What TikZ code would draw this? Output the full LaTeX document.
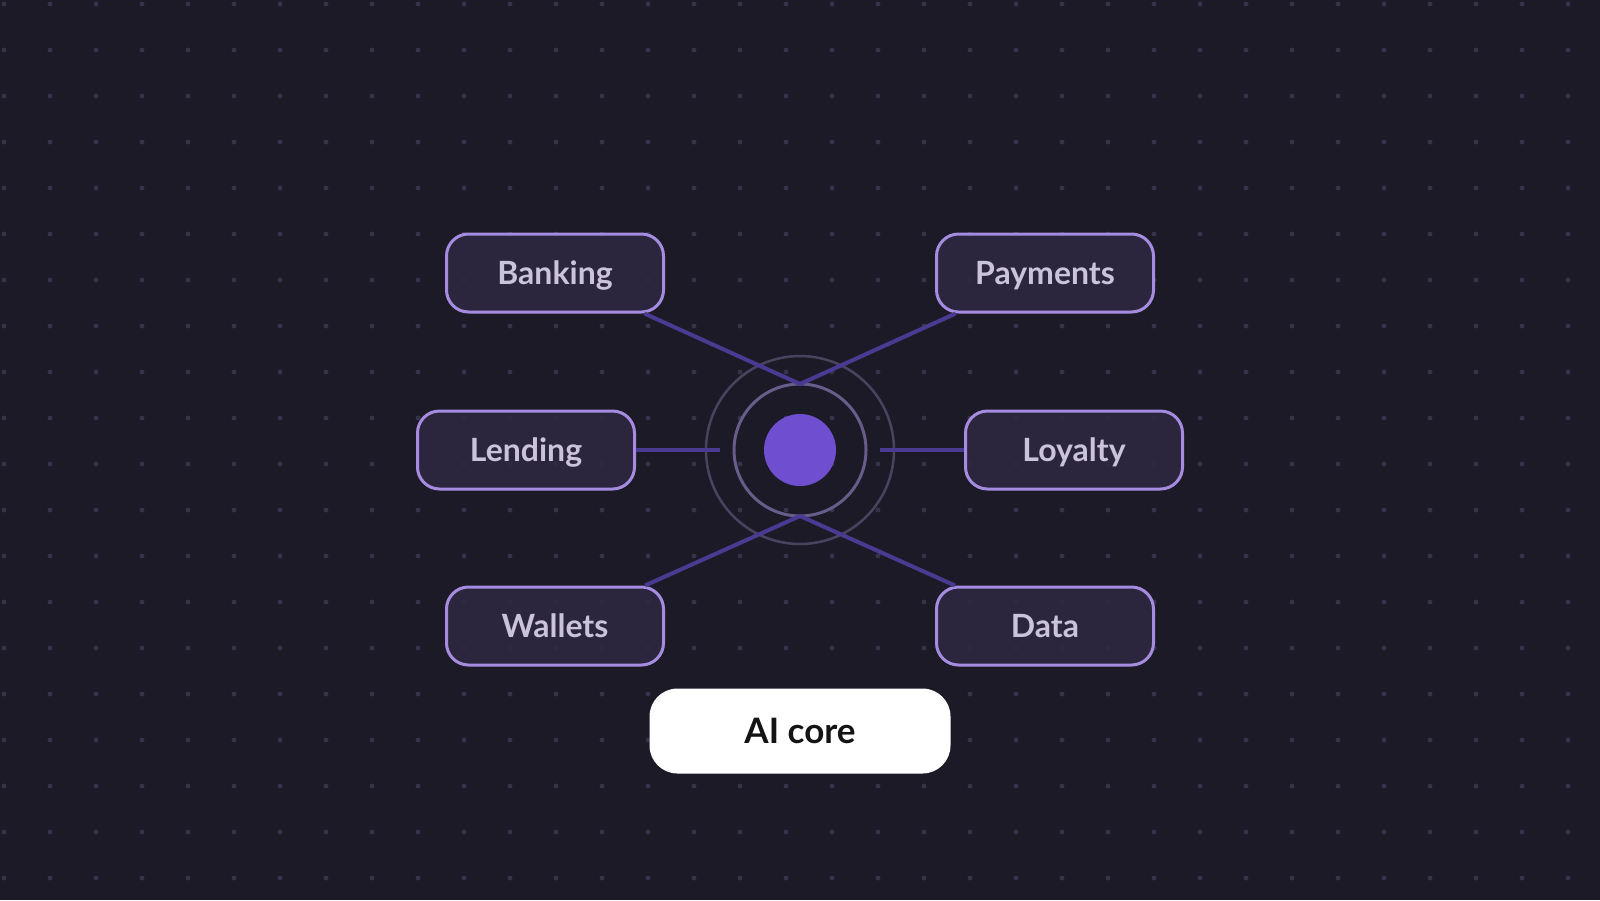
\documentclass[tikz,border=0pt]{standalone}
\usepackage{fontspec}
\setmainfont{Lato}
\usetikzlibrary{positioning}

\definecolor{bg}{HTML}{1C1A26}
\definecolor{dotgray}{HTML}{35334A}
\definecolor{boxfill}{HTML}{2E2841}
\definecolor{boxedge}{HTML}{A68CE0}
\definecolor{boxtext}{HTML}{CBC3DD}
\definecolor{linkpurple}{HTML}{4A3A92}
\definecolor{ringouter}{HTML}{4A4360}
\definecolor{ringinner}{HTML}{675C8A}
\definecolor{coredot}{HTML}{6F4FCF}

\def\gridsep{46}

\begin{document}
\begin{tikzpicture}[x=1pt, y=-1pt]
    \tikzstyle{module}=[rectangle, rounded corners=22pt, draw=boxedge, line width=3pt, fill=boxfill, fill opacity=0.88, text opacity=1, text=boxtext, minimum width=217pt, minimum height=78pt, text height=23pt, text depth=0pt, font=\fontsize{32}{38}\selectfont\bfseries]
    \tikzstyle{ring}=[circle, inner sep=0pt, outer sep=0pt]
    \tikzstyle{link}=[draw=linkpurple, line width=4pt]
    \tikzstyle{core label}=[rectangle, rounded corners=28pt, fill=white, text=black!92, minimum width=301pt, minimum height=85pt, text height=25pt, text depth=0pt, font=\fontsize{35}{40}\selectfont\bfseries]

    \useasboundingbox (0,0) rectangle (1600,900);
    \fill[bg] (0,0) rectangle (1600,900);

    % dotted grid in the background
    \foreach \i in {0,...,34}
        \foreach \j in {0,...,19}
            \fill[dotgray] (4+\gridsep*\i, 4+\gridsep*\j) circle[radius=2.5pt];

    % the core and its rings
    \node[ring, draw=ringouter, line width=2.5pt, minimum size=188pt] (outer) at (800,450) {};
    \node[ring, draw=ringinner, line width=3pt, minimum size=132pt] (inner) at (800,450) {};
    \node[ring, fill=coredot, minimum size=72pt] (core) at (800,450) {};

    % the modules
    \foreach \name / \x / \y in {Banking/555/273, Payments/1045/273, Lending/526/450, Loyalty/1074/450, Wallets/555/626, Data/1045/626}
        \node[module] (\name) at (\x,\y) {\name};

    \coordinate (lend-end) at (720,450);
    \coordinate (loy-end) at (880,450);

    % links from the rings to the modules
    \path[link] (inner.north) -- (Banking);
    \path[link] (inner.north) -- (Payments);
    \path[link] (inner.south) -- (Wallets);
    \path[link] (inner.south) -- (Data);
    \path[link] (Lending) -- (lend-end);
    \path[link] (Loyalty) -- (loy-end);

    \node[core label] (label) at (800,731) {AI core};
\end{tikzpicture}
\end{document}
